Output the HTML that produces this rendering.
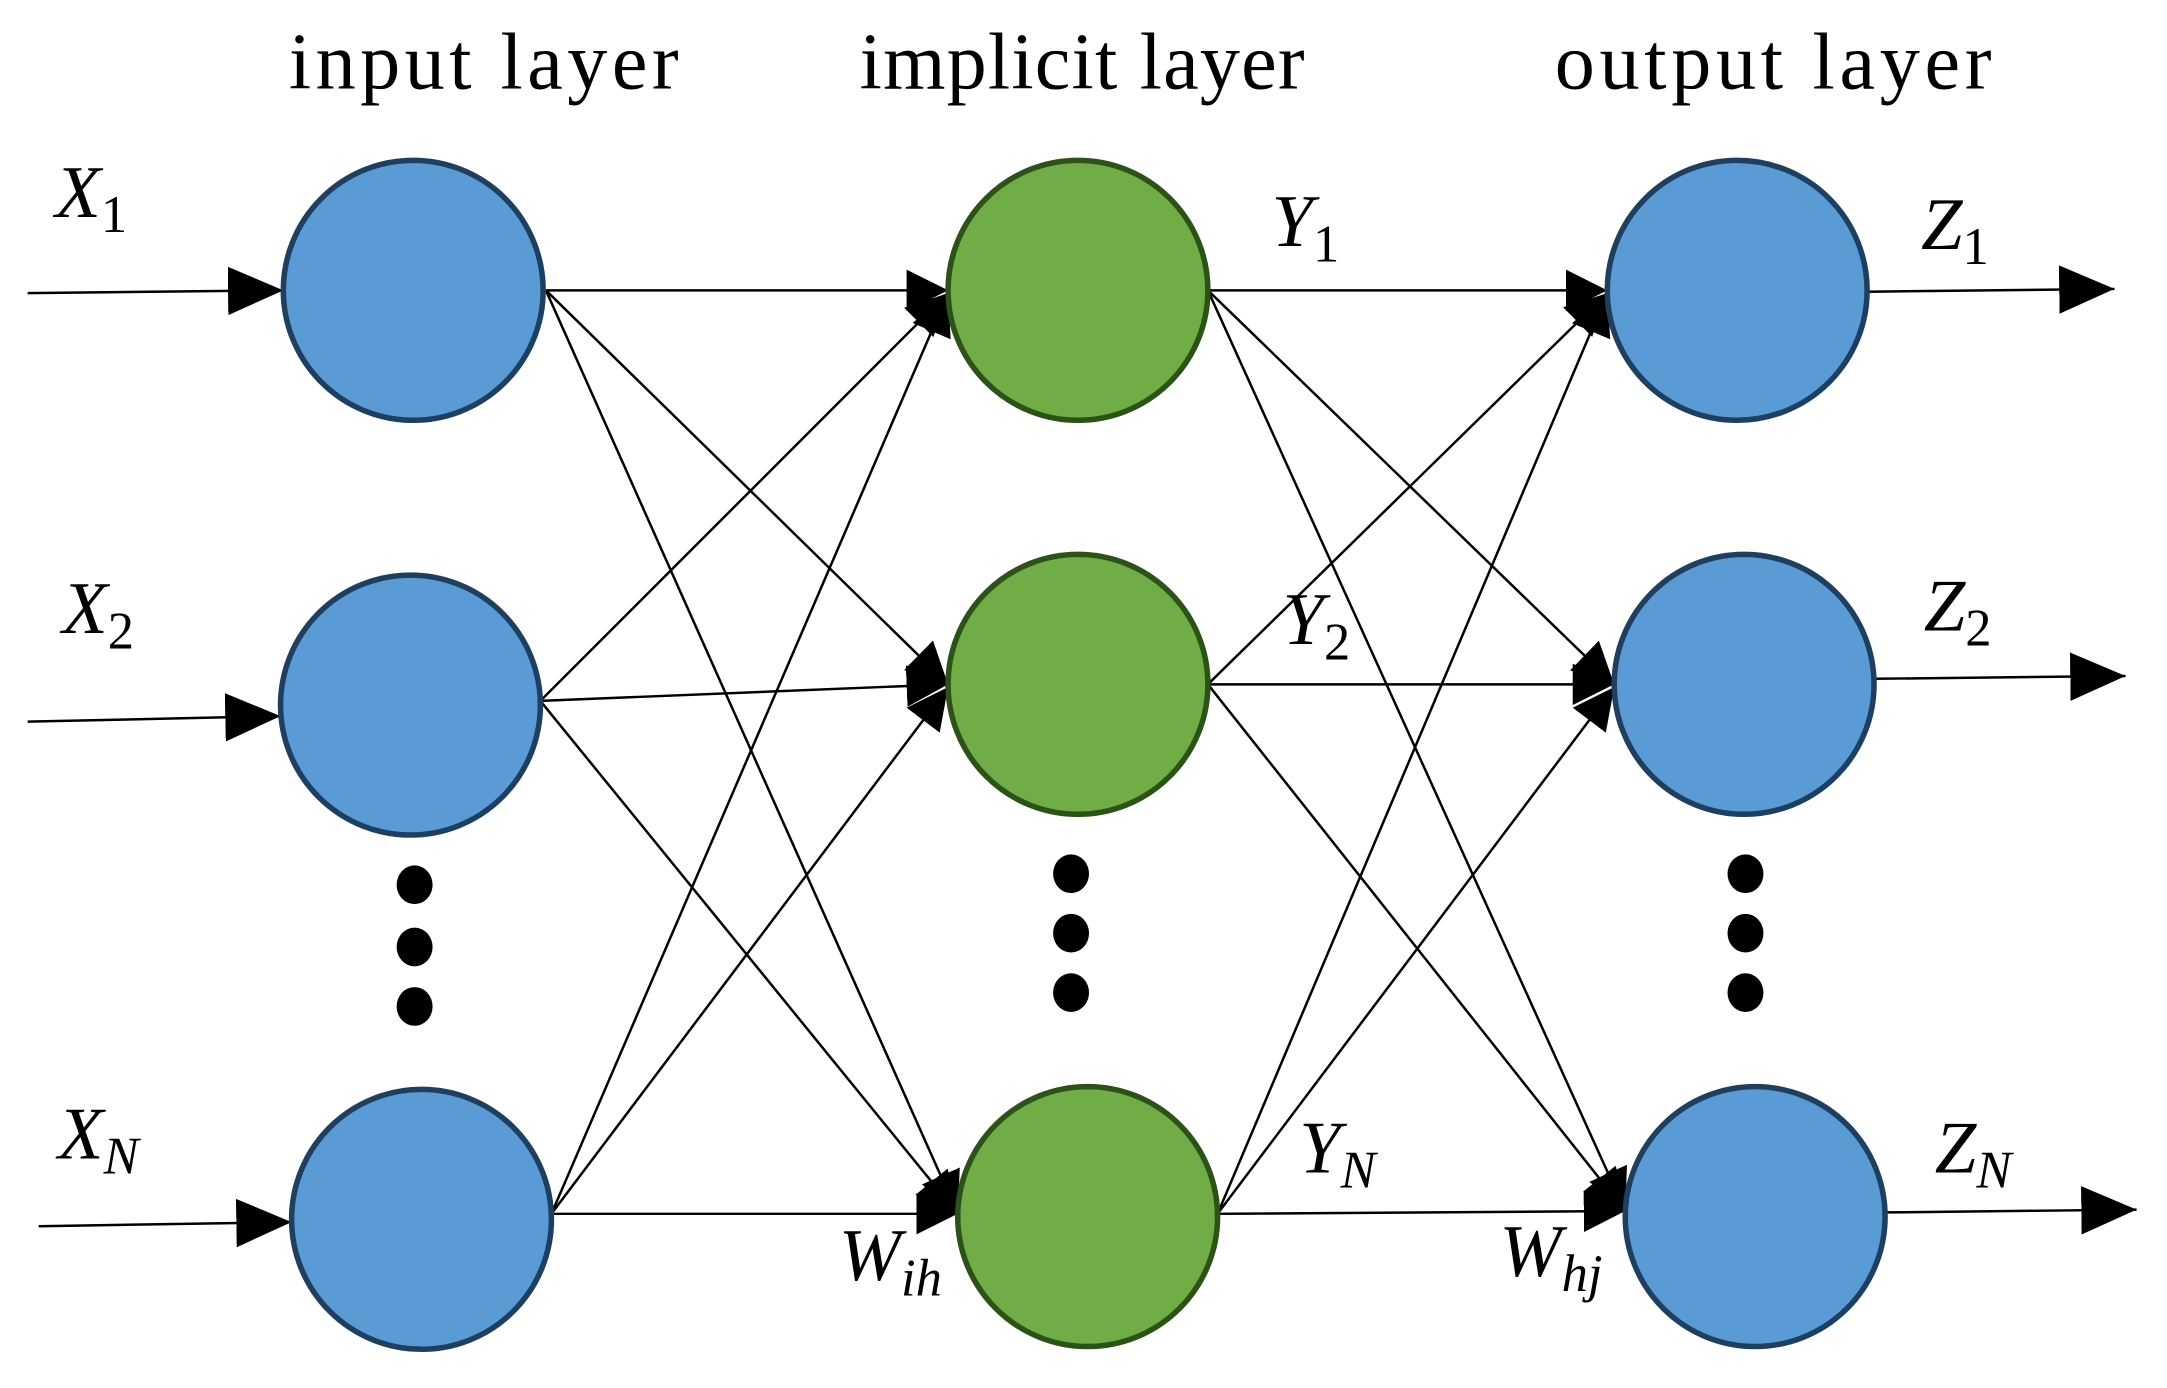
<!DOCTYPE html>
<html><head><meta charset="utf-8"><style>
html,body{margin:0;padding:0;background:#fff;}
svg{display:block;}
.t{font-family:"Liberation Serif",serif;font-size:58px;fill:#000;}
.v{font-family:"Liberation Serif",serif;font-style:italic;font-size:54px;fill:#000;}
.s{font-size:38px;}
</style></head><body>
<svg width="2167" height="1388" viewBox="0 0 1568 1004" preserveAspectRatio="none" xmlns="http://www.w3.org/2000/svg">
<defs>
<marker id="a" markerUnits="userSpaceOnUse" markerWidth="40" markerHeight="40" viewBox="0 0 32 28" refX="32" refY="14" orient="auto" >
<path d="M0,0 L32,14 L0,28 Z" fill="#000"/></marker>
<marker id="b" markerUnits="userSpaceOnUse" markerWidth="30" markerHeight="30" viewBox="0 0 26 26" refX="26" refY="13" orient="auto" >
<path d="M0,0 L26,13 L0,26 Z" fill="#000"/></marker>
</defs>
<g stroke="#000" stroke-width="1.8" fill="none">
<line x1="20" y1="212" x2="205" y2="210" marker-end="url(#a)"/>
<line x1="20" y1="522" x2="203" y2="518" marker-end="url(#a)"/>
<line x1="28" y1="887" x2="211" y2="884" marker-end="url(#a)"/>
<g marker-end="url(#b)">
<line x1="395" y1="210" x2="686" y2="210"/>
<line x1="395" y1="210" x2="686" y2="495"/>
<line x1="395" y1="210" x2="693" y2="878"/>
<line x1="391" y1="507" x2="686" y2="212"/>
<line x1="391" y1="507" x2="686" y2="495"/>
<line x1="391" y1="507" x2="693" y2="878"/>
<line x1="399" y1="878" x2="686" y2="212"/>
<line x1="399" y1="878" x2="686" y2="497"/>
<line x1="399" y1="878" x2="693" y2="878"/>
<line x1="874" y1="210" x2="1163" y2="210"/>
<line x1="874" y1="210" x2="1168" y2="495"/>
<line x1="874" y1="210" x2="1176" y2="876"/>
<line x1="874" y1="495" x2="1163" y2="212"/>
<line x1="874" y1="495" x2="1168" y2="495"/>
<line x1="874" y1="495" x2="1176" y2="876"/>
<line x1="881" y1="878" x2="1163" y2="212"/>
<line x1="881" y1="878" x2="1168" y2="497"/>
<line x1="881" y1="878" x2="1176" y2="876"/>
</g>
<line x1="1351" y1="211" x2="1530" y2="209" marker-end="url(#a)"/>
<line x1="1356" y1="491" x2="1538" y2="489" marker-end="url(#a)"/>
<line x1="1364" y1="877" x2="1546" y2="875" marker-end="url(#a)"/>
</g>
<g fill="#5b9bd5" stroke="#1f3f60" stroke-width="4">
<ellipse cx="299" cy="210" rx="94" ry="94"/>
<ellipse cx="297" cy="510" rx="94" ry="94"/>
<ellipse cx="305" cy="882" rx="94" ry="94"/>
<ellipse cx="1257" cy="210" rx="94" ry="94"/>
<ellipse cx="1262" cy="495" rx="94" ry="94"/>
<ellipse cx="1270" cy="880" rx="94" ry="94"/>
</g>
<g fill="#70ad47" stroke="#2c5218" stroke-width="4">
<ellipse cx="780" cy="210" rx="94" ry="94"/>
<ellipse cx="780" cy="495" rx="94" ry="94"/>
<ellipse cx="787" cy="880" rx="94" ry="94"/>
</g>
<g fill="#000">
<ellipse cx="300" cy="640" rx="13" ry="14"/><ellipse cx="300" cy="685" rx="13" ry="14"/><ellipse cx="300" cy="728" rx="13" ry="14"/>
<ellipse cx="775" cy="632" rx="13" ry="14"/><ellipse cx="775" cy="675" rx="13" ry="14"/><ellipse cx="775" cy="718" rx="13" ry="14"/>
<ellipse cx="1263" cy="632" rx="13" ry="14"/><ellipse cx="1263" cy="675" rx="13" ry="14"/><ellipse cx="1263" cy="718" rx="13" ry="14"/>
</g>
<text class="t" x="350" y="64" text-anchor="middle" textLength="282">input layer</text>
<text class="t" x="783" y="64" text-anchor="middle" textLength="322">implicit layer</text>
<text class="t" x="1283" y="64" text-anchor="middle" textLength="316">output layer</text>
<text class="v" x="40" y="157">X<tspan class="s" font-style="normal" dy="11">1</tspan></text>
<text class="v" x="45" y="458">X<tspan class="s" font-style="normal" dy="11">2</tspan></text>
<text class="v" x="42" y="838">X<tspan class="s" dy="11">N</tspan></text>
<text class="v" x="920" y="178">Y<tspan class="s" font-style="normal" dy="11">1</tspan></text>
<text class="v" x="928" y="466">Y<tspan class="s" font-style="normal" dy="11">2</tspan></text>
<text class="v" x="940" y="848">Y<tspan class="s" dy="11">N</tspan></text>
<text class="v" x="1390" y="180">Z<tspan class="s" font-style="normal" dy="11">1</tspan></text>
<text class="v" x="1392" y="456">Z<tspan class="s" font-style="normal" dy="11">2</tspan></text>
<text class="v" x="1400" y="848">Z<tspan class="s" dy="11">N</tspan></text>
<text class="v" x="607" y="926">W<tspan class="s" dy="11">ih</tspan></text>
<text class="v" x="1085" y="923">W<tspan class="s" dy="11">hj</tspan></text>
</svg>
</body></html>
